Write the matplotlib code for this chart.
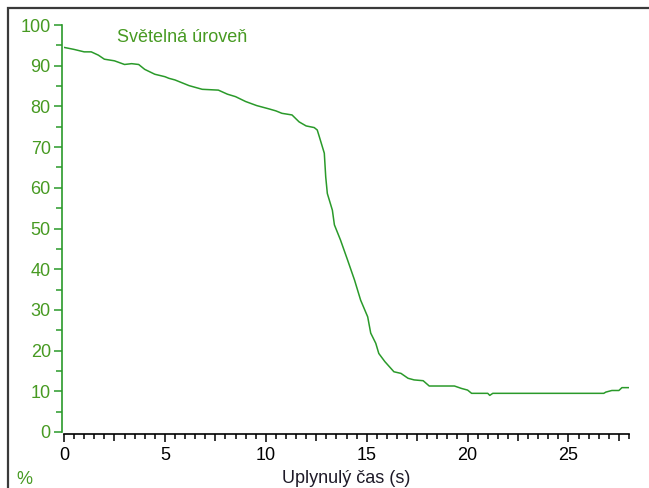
import matplotlib
matplotlib.use('Agg')
import matplotlib.pyplot as plt
from matplotlib.ticker import MultipleLocator
from matplotlib.patches import Rectangle

# elapsed time (s) and light level (%)
cas = [0.0, 0.5, 1.0, 1.35, 1.7, 2.0, 2.5, 3.0, 3.35, 3.7, 4.0, 4.5, 5.0,
       5.2, 5.5, 5.85, 6.2, 6.85, 7.65, 8.1, 8.5, 9.0, 9.55, 10.15, 10.5,
       10.8, 11.3, 11.65, 12.0, 12.4, 12.55, 12.65, 12.9, 12.97, 13.05,
       13.3, 13.4, 13.7, 14.05, 14.4, 14.7, 15.05, 15.2, 15.45, 15.6,
       15.9, 16.35, 16.7, 17.05, 17.35, 17.8, 18.1, 19.35, 19.7, 20.0,
       20.2, 21.0, 21.1, 21.25, 22.2, 26.75, 26.85, 27.15, 27.5, 27.65,
       28.0]
uroven = [94.5, 94.0, 93.4, 93.4, 92.6, 91.6, 91.2, 90.3, 90.5, 90.3, 89.1,
          87.9, 87.3, 86.9, 86.5, 85.8, 85.1, 84.2, 84.0, 83.0, 82.4, 81.2,
          80.2, 79.4, 78.9, 78.3, 77.9, 76.2, 75.2, 74.8, 74.2, 72.6, 68.5,
          62.7, 58.6, 54.5, 50.9, 47.2, 42.3, 37.3, 32.4, 28.3, 24.3, 21.8,
          19.3, 17.3, 14.8, 14.4, 13.2, 12.8, 12.6, 11.3, 11.3, 10.7, 10.3,
          9.5, 9.5, 9.0, 9.5, 9.5, 9.5, 9.8, 10.2, 10.2, 10.9, 10.9]

green = '#2a9a2a'
label_green = '#479a22'
fs = 13

plt.rcParams['font.family'] = ['Liberation Sans', 'DejaVu Sans']

W, H = 649, 488
fig = plt.figure(figsize=(W / 100, H / 100), dpi=100)
fig.patch.set_facecolor('white')
ax = fig.add_axes([64 / W, 1 - 432 / H, (629 - 64) / W, (432 - 25) / H])

ax.plot(cas, uroven, color=green, lw=1.1)

ax.set_xlim(0, 28)
ax.set_ylim(0, 100)

for s in ['top', 'right']:
    ax.spines[s].set_visible(False)
ax.spines['left'].set_color(green)
ax.spines['left'].set_linewidth(1.2)
ax.spines['left'].set_position(('outward', 1.5))
ax.spines['bottom'].set_color('black')
ax.spines['bottom'].set_linewidth(1.2)
ax.spines['bottom'].set_position(('outward', 1.5))

ax.yaxis.set_major_locator(MultipleLocator(10))
ax.yaxis.set_minor_locator(MultipleLocator(5))
ax.xaxis.set_major_locator(MultipleLocator(5))
ax.xaxis.set_minor_locator(MultipleLocator(0.5))

ax.tick_params(axis='y', which='major', length=6, width=1.1, color=green,
               labelcolor=label_green, labelsize=fs, pad=2)
ax.tick_params(axis='y', which='minor', length=4, width=1.1, color=green)
ax.tick_params(axis='x', which='major', length=6, width=1.1, color='black',
               labelcolor='black', labelsize=fs, pad=3)
ax.tick_params(axis='x', which='minor', length=3.5, width=1.1, color='black')

# longer minor ticks at every 2.5 s
fig.canvas.draw()
for loc, t in zip(ax.xaxis.get_minorticklocs(), ax.xaxis.get_minor_ticks()):
    if abs(loc / 2.5 - round(loc / 2.5)) < 1e-6:
        t.tick1line.set_markersize(5)

fig.text(117 / W, 1 - 37 / H, 'Světelná úroveň', color=label_green,
         fontsize=fs, va='center', ha='left')
fig.text(346 / W, 1 - 483 / H, 'Uplynulý čas (s)', color='#1e1a28',
         fontsize=fs, ha='center', va='baseline')
fig.text(16 / W, 1 - 484 / H, '%', color=label_green, fontsize=fs,
         ha='left', va='baseline')

# outer border around the chart
fig.add_artist(Rectangle((8 / W, -0.1), 1.1, 1 - 8 / H + 0.1,
                         transform=fig.transFigure, fill=False,
                         ec='#3a3a3a', lw=1.6))

fig.savefig('out.png', dpi=100)
